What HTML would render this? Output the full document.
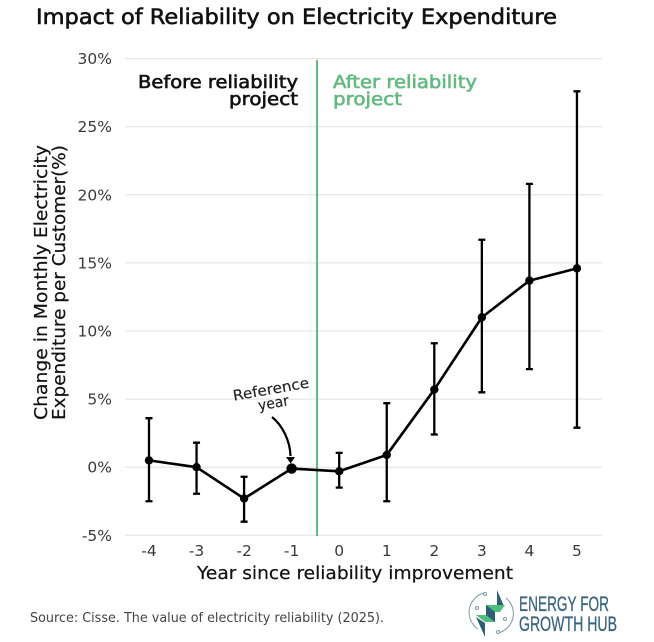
<!DOCTYPE html>
<html>
<head>
<meta charset="utf-8">
<style>
html,body{margin:0;padding:0;background:#fff;width:654px;height:642px;overflow:hidden}
svg{display:block}
text{font-family:"DejaVu Sans","Liberation Sans",sans-serif}
</style>
</head>
<body>
<svg id="chart" width="654" height="642" viewBox="0 0 654 642" xmlns="http://www.w3.org/2000/svg">
  <text x="36" y="24" font-size="21" fill="#111" stroke="#111" stroke-width="0.6" textLength="521" lengthAdjust="spacingAndGlyphs">Impact of Reliability on Electricity Expenditure</text>
  <g id="grid"></g>
  <g id="yticks"></g>
  <g id="xticks"></g>
  <line x1="317" y1="60" x2="317" y2="536" stroke="#63b97f" stroke-width="2"/>
  <text x="298" y="88" font-size="18" text-anchor="end" fill="#111" stroke="#111" stroke-width="0.6" textLength="160" lengthAdjust="spacingAndGlyphs">Before reliability</text>
  <text x="298" y="105" font-size="18" text-anchor="end" fill="#111" stroke="#111" stroke-width="0.6" textLength="69" lengthAdjust="spacingAndGlyphs">project</text>
  <text x="333" y="88" font-size="18" fill="#63b97f" stroke="#63b97f" stroke-width="0.6" textLength="144" lengthAdjust="spacingAndGlyphs">After reliability</text>
  <text x="333" y="105" font-size="18" fill="#63b97f" stroke="#63b97f" stroke-width="0.6" textLength="69" lengthAdjust="spacingAndGlyphs">project</text>
  <g id="errors"></g>
  <path id="line" fill="none" stroke="#000" stroke-width="2.6" stroke-linejoin="round"/>
  <g id="points"></g>
  <g transform="rotate(-10 272 395)">
    <text x="272" y="394" font-size="14.5" fill="#222" stroke="#222" stroke-width="0.15" text-anchor="middle" textLength="77" lengthAdjust="spacingAndGlyphs">Reference</text>
    <text x="272" y="408" font-size="14.5" fill="#222" stroke="#222" stroke-width="0.15" text-anchor="middle" textLength="31" lengthAdjust="spacingAndGlyphs">year</text>
  </g>
  <path d="M272 417 C282 425 290 440 290.500 456" fill="none" stroke="#000" stroke-width="2.2"/>
  <path d="M286 457 L295 457 L290.700 463.500 Z" fill="#000"/>
  <g>
    <text transform="translate(47 420) rotate(-90)" font-size="18" fill="#111" stroke="#111" stroke-width="0.2" textLength="275" lengthAdjust="spacingAndGlyphs">Change in Monthly Electricity</text>
    <text transform="translate(65 420) rotate(-90)" font-size="18" fill="#111" stroke="#111" stroke-width="0.2" textLength="275" lengthAdjust="spacingAndGlyphs">Expenditure per Customer(%)</text>
  </g>
  <text x="197" y="579" font-size="18" fill="#111" stroke="#111" stroke-width="0.2" textLength="316" lengthAdjust="spacingAndGlyphs">Year since reliability improvement</text>
  <text x="30" y="622" font-size="13.5" fill="#444" textLength="354" lengthAdjust="spacingAndGlyphs">Source: Cisse. The value of electricity reliability (2025).</text>
  <g>
    <path d="M484 593 A20 20 0 0 0 478 629" fill="none" stroke="#7e99a8" stroke-width="1"/>
    <path d="M498 633 A20 20 0 0 0 506 598" fill="none" stroke="#7e99a8" stroke-width="1"/>
    <circle cx="485" cy="594" r="1.5" fill="#fff" stroke="#7e99a8"/>
    <circle cx="477" cy="608" r="1.5" fill="#fff" stroke="#7e99a8"/>
    <circle cx="505" cy="619" r="1.5" fill="#fff" stroke="#7e99a8"/>
    <circle cx="498" cy="632" r="1.5" fill="#fff" stroke="#7e99a8"/>
    <path d="M497 590 L503.500 605 L497 605 Z" fill="#2f5d78"/>
    <path d="M476 617 L485 623 L485 637 Z" fill="#2f5d78"/>
    <path d="M476 615 L486 615 L486 605 L505 605 L500 612 L495 612 L495 622 L485 622 Z" fill="#4cc07a"/>
    <path d="M486 605 L495 612 L495 622 L486 615 Z" fill="#2f5d78"/>
    <text x="519" y="611" font-size="21" fill="#3a6580" stroke="#3a6580" stroke-width="0.3" textLength="90" lengthAdjust="spacingAndGlyphs" style="font-family:'Liberation Sans',sans-serif">ENERGY FOR</text>
    <text x="519" y="631" font-size="21" fill="#3a6580" stroke="#3a6580" stroke-width="0.3" textLength="98" lengthAdjust="spacingAndGlyphs" style="font-family:'Liberation Sans',sans-serif">GROWTH HUB</text>
  </g>
</svg>
<script>
const years = [-4, -3, -2, -1, 0, 1, 2, 3, 4, 5];
const estimates = [0.5, 0, -2.3, -0.1, -0.3, 0.9, 5.7, 11, 13.7, 14.6];
const upperBounds = [3.6, 1.8, -0.7, null, 1.05, 4.7, 9.1, 16.7, 20.8, 27.6];
const lowerBounds = [-2.5, -1.95, -4.0, null, -1.5, -2.5, 2.4, 5.5, 7.2, 2.9];
const yTickValues = [-5, 0, 5, 10, 15, 20, 25, 30];
const referenceYear = -1;

const NS = 'http://www.w3.org/2000/svg';
function xScale(v) { return 149 + (v + 4) * 47.55; }
function yScale(v) { return 467.2 - v * 13.62; }
function make(tag, attrs, parent) {
  const el = document.createElementNS(NS, tag);
  for (const k in attrs) el.setAttribute(k, attrs[k]);
  parent.appendChild(el);
  return el;
}

const grid = document.getElementById('grid');
const yticks = document.getElementById('yticks');
const xticks = document.getElementById('xticks');
const errors = document.getElementById('errors');
const points = document.getElementById('points');

yTickValues.forEach(function (t) {
  const g = make('line', { x1: 125, x2: 602, y1: yScale(t), y2: yScale(t), stroke: '#e0e0e0', 'stroke-width': 1 }, grid);
  
  
  const l = make('text', { x: 112, y: yScale(t) + 5.5, 'font-size': 15.5, fill: '#3a3a3a', 'text-anchor': 'end' }, yticks);
  
  
  l.textContent = t + '%';
});

years.forEach(function (yr, i) {
  const l = make('text', { x: xScale(yr), y: 556, 'font-size': 15.5, fill: '#3a3a3a', 'text-anchor': 'middle' }, xticks);
  
  
  l.textContent = yr;

  if (upperBounds[i] !== null) {
    const x = xScale(yr);
    const top = yScale(upperBounds[i]);
    const bot = yScale(lowerBounds[i]);
    const bar = make('path', { d: 'M' + x + ' ' + top + 'V' + bot + 'M' + (x - 3.5) + ' ' + top + 'H' + (x + 3.5) + 'M' + (x - 3.5) + ' ' + bot + 'H' + (x + 3.5), fill: 'none', stroke: '#000', 'stroke-width': 2.3 }, errors);
    
    
  }

  const p = make('circle', { cx: xScale(yr), cy: yScale(estimates[i]), r: yr === referenceYear ? 5.2 : 4.2, fill: '#000' }, points);
  
  
});

document.getElementById('line').setAttribute('d', years.map(function (yr, i) {
  return (i ? 'L' : 'M') + xScale(yr) + ' ' + yScale(estimates[i]);
}).join(' '));
</script>
</body>
</html>
